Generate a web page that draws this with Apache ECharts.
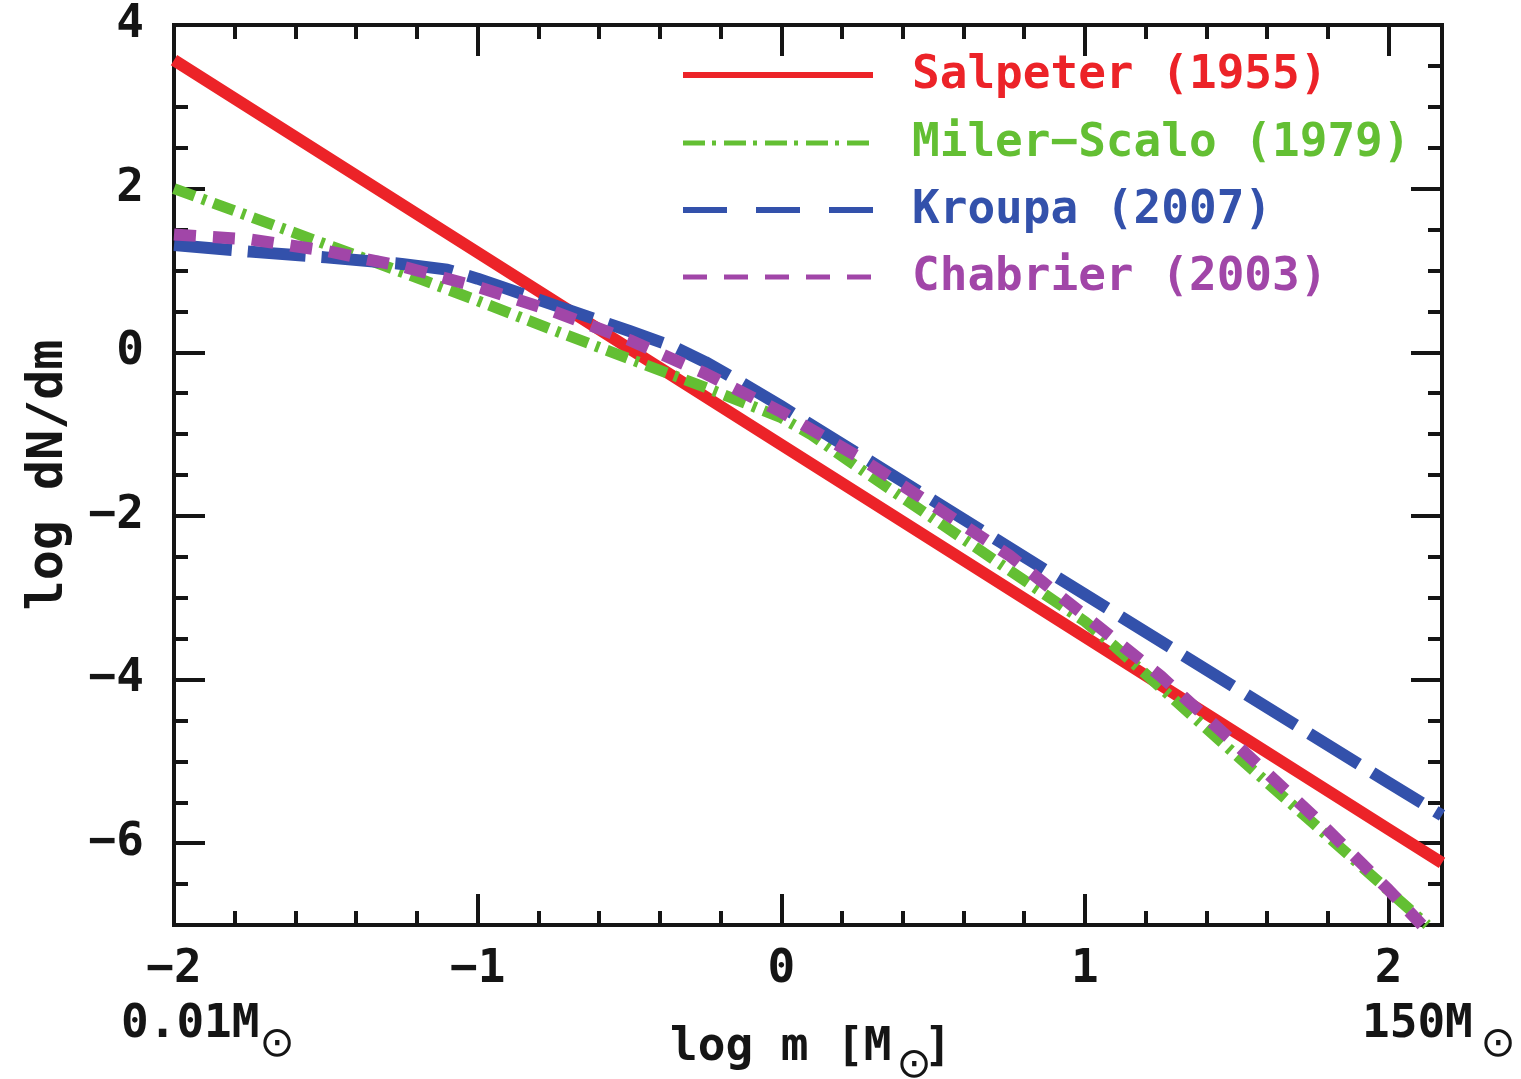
<!DOCTYPE html>
<html><head><meta charset="utf-8">
<script src="https://cdn.jsdelivr.net/npm/echarts@6/dist/echarts.min.js"></script>
<style>html,body{margin:0;padding:0;background:#fff}#c{width:1521px;height:1079px}</style>
</head><body><div id="c"></div><script>
// ---- data ----
const xMin = -2, xMax = 2.176, yMin = -7, yMax = 4;
const xMajorTicks = [-2, -1, 0, 1, 2];
const xTickLabels = ['\u22122', '\u22121', '0', '1', '2'];
const xMinorTicks = [-1.8, -1.6, -1.4, -1.2, -0.8, -0.6, -0.4, -0.2, 0.2, 0.4, 0.6, 0.8, 1.2, 1.4, 1.6, 1.8];
const yMajorTicks = [-6, -4, -2, 0, 2, 4];
const yTickLabels = ['\u22126', '\u22124', '\u22122', '0', '2', '4'];
const yMinorTicks = [-6.5, -5.5, -5, -4.5, -3.5, -3, -2.5, -1.5, -1, -0.5, 0.5, 1, 1.5, 2.5, 3, 3.5];

const seriesNames = ['Salpeter (1955)', 'Miler\u2212Scalo (1979)', 'Kroupa (2007)', 'Chabrier (2003)'];

const salpeterX = [-2, -1, 0, 1, 2, 2.176];
const salpeterY = [3.57, 1.22, -1.13, -3.48, -5.83, -6.24];

const millerX = [-2, -1.75, -1.5, -1.25, -1, -0.75, -0.5, -0.25, -0.1, 0, 0.1, 0.25, 0.5, 0.75, 0.9, 1, 1.1, 1.25, 1.5, 1.75, 2, 2.127];
const millerY = [2.0, 1.66, 1.32, 0.98, 0.63, 0.27, -0.08, -0.43, -0.65, -0.80, -1.01, -1.40, -2.03, -2.66, -3.04, -3.29, -3.60, -4.10, -4.93, -5.75, -6.58, -7.0];

const kroupaX = [-2, -1.75, -1.5, -1.25, -1.1, -1, -0.75, -0.5, -0.35, -0.25, -0.15, 0, 0.5, 1, 1.5, 2, 2.176];
const kroupaY = [1.31, 1.23, 1.16, 1.08, 1.01, 0.90, 0.58, 0.26, 0.06, -0.12, -0.33, -0.66, -1.81, -2.96, -4.11, -5.26, -5.66];

const chabrierX = [-2, -1.75, -1.5, -1.25, -1, -0.75, -0.5, -0.25, 0, 0.25, 0.5, 0.75, 1, 1.25, 1.5, 1.75, 2, 2.11];
const chabrierY = [1.44, 1.38, 1.24, 1.05, 0.80, 0.50, 0.15, -0.26, -0.73, -1.27, -1.87, -2.48, -3.22, -3.96, -4.80, -5.66, -6.57, -7.0];

// ---- style ----
const colors = ['#EC2328', '#63BF33', '#3351AB', '#A146A8'];
const FONT = '"DejaVu Sans Mono", monospace';
const INK = '#151515';
const pair = (xs, ys) => xs.map((x, i) => [x, ys[i]]);
const lab = (ticks, labels) => v => { const i = ticks.findIndex(t => Math.abs(t - v) < 1e-6); return i >= 0 ? labels[i] : ''; };

function axis(kind, grid, pos, ticks, len, withLine, labels) {
  const a = {
    type: 'value', gridIndex: grid, position: pos,
    min: kind === 'x' ? xMin : yMin, max: kind === 'x' ? xMax : yMax,
    splitLine: { show: false },
    axisLine: { show: withLine, onZero: false, lineStyle: { color: INK, width: 4, cap: 'square' } },
    axisTick: { show: true, inside: true, length: len, customValues: ticks, lineStyle: { color: INK, width: 4 } },
    axisLabel: { show: false }
  };
  if (labels) {
    a.axisLabel = {
      show: true, customValues: ticks, formatter: lab(ticks, labels),
      margin: kind === 'x' ? 22 : 30, color: INK, fontFamily: FONT, fontWeight: 'bold', fontSize: 46
    };
  }
  return a;
}

const gridRect = { left: 174, right: 79, top: 25, bottom: 154, outerBoundsMode: 'none', containLabel: false };

const yMain = axis('y', 0, 'left', yMajorTicks, 31, true, yTickLabels);
yMain.name = 'log dN/dm';
yMain.nameLocation = 'middle';
yMain.nameRotate = 90;
yMain.nameGap = 100;
yMain.nameTextStyle = { color: INK, fontFamily: FONT, fontWeight: 'bold', fontSize: 50 };

function lineSeries(i, xs, ys, width, dash) {
  return {
    name: seriesNames[i], type: 'line', xAxisIndex: 0, yAxisIndex: 0,
    data: pair(xs, ys), showSymbol: false, symbol: 'none',
    smooth: false, clip: true,
    lineStyle: { color: colors[i], width: width, type: dash, cap: 'butt', join: 'round' },
    itemStyle: { color: colors[i] }, z: 2 + i
  };
}

const legendY = [75, 143, 210, 277];
const legendDash = ['solid', [22, 7, 4, 8], [44, 29], [24, 17]];
const legendW = [6, 5, 6, 5];
const graphic = [];
seriesNames.forEach((n, i) => {
  graphic.push({ type: 'line', shape: { x1: 683, y1: legendY[i], x2: 873, y2: legendY[i] },
    style: { stroke: colors[i], lineWidth: legendW[i], lineDash: legendDash[i] === 'solid' ? null : legendDash[i] } });
  graphic.push({ type: 'text', x: 912, y: legendY[i] + 1,
    style: { text: n, fill: colors[i], font: 'bold 46px ' + FONT, align: 'left', verticalAlign: 'middle' } });
});
const txt = (t, x, y, size, align, fam, weight) => ({ type: 'text', x, y,
  style: { text: t, fill: INK, font: (weight || 'bold') + ' ' + size + 'px ' + (fam || FONT), align: align || 'left', verticalAlign: 'middle' } });
const SUN = '"DejaVu Sans", sans-serif';
graphic.push(txt('0.01M', 121, 1025, 46));
graphic.push(txt('\u2299', 277, 1045, 42, 'center', SUN, 'normal'));
graphic.push(txt('150M', 1362, 1025, 46));
graphic.push(txt('\u2299', 1498, 1045, 42, 'center', SUN, 'normal'));
graphic.push(txt('log m [M', 670, 1048, 46));
graphic.push(txt('\u2299', 914, 1066, 42, 'center', SUN, 'normal'));
graphic.push(txt(']', 924, 1048, 46));

const option = {
  animation: false,
  backgroundColor: '#ffffff',
  grid: [Object.assign({}, gridRect), Object.assign({}, gridRect)],
  xAxis: [
    axis('x', 0, 'bottom', xMajorTicks, 31, true, xTickLabels),
    axis('x', 0, 'top', xMajorTicks, 31, true, null),
    axis('x', 1, 'bottom', xMinorTicks, 14, false, null),
    axis('x', 1, 'top', xMinorTicks, 14, false, null)
  ],
  yAxis: [
    yMain,
    axis('y', 0, 'right', yMajorTicks, 31, true, null),
    axis('y', 1, 'left', yMinorTicks, 14, false, null),
    axis('y', 1, 'right', yMinorTicks, 14, false, null)
  ],
  series: [
    lineSeries(0, salpeterX, salpeterY, 12, 'solid'),
    lineSeries(1, millerX, millerY, 11, [22, 8, 4, 8]),
    lineSeries(2, kroupaX, kroupaY, 12, [58, 16]),
    lineSeries(3, chabrierX, chabrierY, 12, [22, 17])
  ],
  graphic: graphic
};
const chart = echarts.init(document.getElementById('c'), null, { renderer: 'canvas' });
chart.setOption(option);
</script></body></html>
